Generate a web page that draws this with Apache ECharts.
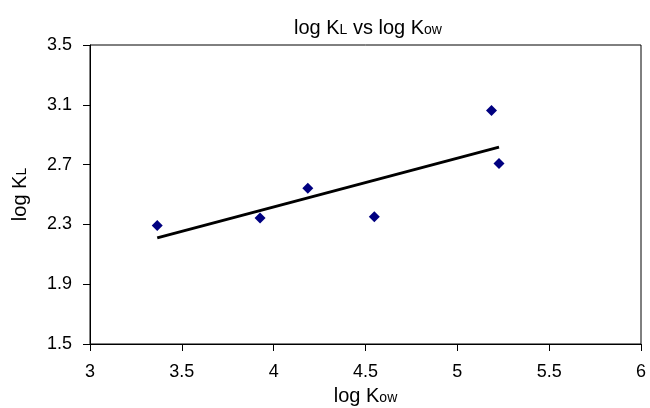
<!DOCTYPE html>
<html>
<head>
<meta charset="utf-8">
<script src="https://cdn.jsdelivr.net/npm/echarts@6/dist/echarts.min.js"></script>
<style>html,body{margin:0;padding:0;background:#fff}#c{width:650px;height:408px}</style>
</head>
<body>
<div id="c"></div>
<script>
var logKow = [3.366, 3.926, 4.186, 4.548, 5.186, 5.227];
var logKL  = [2.293, 2.342, 2.542, 2.351, 3.062, 2.707];
var xTicks = [3, 3.5, 4, 4.5, 5, 5.5, 6];
var yTicks = [1.5, 1.9, 2.3, 2.7, 3.1, 3.5];

// least-squares trendline from the data
var n = logKow.length, mx = 0, my = 0;
for (var i = 0; i < n; i++) { mx += logKow[i]; my += logKL[i]; }
mx /= n; my /= n;
var sxy = 0, sxx = 0;
for (var i = 0; i < n; i++) { sxy += (logKow[i]-mx)*(logKL[i]-my); sxx += (logKow[i]-mx)*(logKow[i]-mx); }
var slope = sxy / sxx, icpt = my - slope * mx;
var xmin = Math.min.apply(null, logKow), xmax = Math.max.apply(null, logKow);
var trend = [[xmin, icpt + slope*xmin], [xmax, icpt + slope*xmax]];

var pts = logKow.map(function (x, i) { return [x, logKL[i]]; });
var font = '"Liberation Sans", Arial, sans-serif';
var richBase = {
  m: { fontSize: 20, fontFamily: font, fontWeight: 'normal', color: '#000', verticalAlign: 'bottom', lineHeight: 24 },
  s: { fontSize: 14, fontFamily: font, fontWeight: 'normal', color: '#000', verticalAlign: 'bottom', lineHeight: 24, padding: [0, 0, 1, 0] }
};

var chart = echarts.init(document.getElementById('c'), null, { renderer: 'canvas' });
chart.setOption({
  animation: false,
  backgroundColor: '#fff',
  title: {
    text: '{m|log K}{s|L}{m| vs log K}{s|ow}',
    left: 363, top: 9, textAlign: 'center',
    textStyle: { fontWeight: 'normal', rich: richBase }
  },
  grid: { left: 90, right: 9, top: 45, bottom: 64, show: true, borderColor: '#000', borderWidth: 1,
    backgroundColor: 'transparent', containLabel: false, outerBoundsMode: 'none' },
  xAxis: {
    type: 'value', min: 3, max: 6, interval: 0.5,
    name: '{m|log K}{s|ow}', nameLocation: 'middle', nameGap: 38,
    nameTextStyle: { rich: richBase },
    axisLine: { show: true, lineStyle: { color: '#000', width: 1 } },
    axisTick: { show: true, length: 7, lineStyle: { color: '#000' } },
    axisLabel: { fontSize: 18, fontFamily: font, color: '#000', margin: 19 },
    splitLine: { show: false }
  },
  yAxis: {
    type: 'value', min: 1.5, max: 3.5, interval: 0.4,
    name: '{m|log K}{s|L}', nameLocation: 'middle', nameGap: 60, nameRotate: 90,
    nameTextStyle: { rich: richBase },
    axisLine: { show: true, lineStyle: { color: '#000', width: 1 } },
    axisTick: { show: true, length: 7, lineStyle: { color: '#000' } },
    axisLabel: { fontSize: 18, fontFamily: font, color: '#000', margin: 18,
      formatter: function (v) { return v.toFixed(1); } },
    splitLine: { show: false }
  },
  series: [
    { type: 'line', data: trend, showSymbol: false, symbol: 'none',
      lineStyle: { color: '#000', width: 3 }, z: 2 },
    { type: 'scatter', data: pts, symbol: 'diamond', symbolSize: 11,
      itemStyle: { color: '#000080', opacity: 1 }, z: 3 }
  ]
});
</script>
</body>
</html>
